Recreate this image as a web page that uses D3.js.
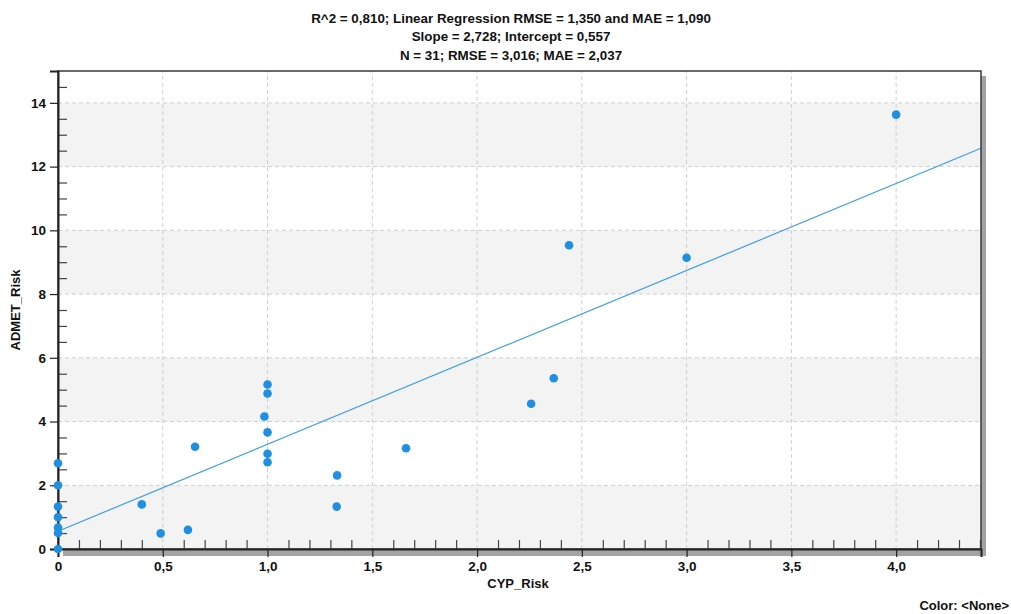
<!DOCTYPE html>
<html>
<head>
<meta charset="utf-8">
<script src="https://cdn.jsdelivr.net/npm/d3@7"></script>
<style>
  body { margin: 0; background: #fff; }
  svg { display: block; font-family: "Liberation Sans", Arial, sans-serif; }
</style>
</head>
<body>
<div id="chart"></div>
<script>
// values
const cypRisk   = [0, 0, 0, 0, 0, 0, 0, 0.4, 0.49, 0.62, 0.654, 1, 1, 0.985, 1, 1, 1, 1.332, 1.33, 1.661, 2.258, 2.366, 2.439, 3.0, 4.0];
const admetRisk = [2.69, 2.0, 1.33, 1.0, 0.67, 0.5, 0, 1.4, 0.49, 0.6, 3.21, 5.16, 4.88, 4.16, 3.66, 2.99, 2.72, 2.31, 1.33, 3.16, 4.56, 5.36, 9.53, 9.14, 13.63];
const slope = 2.728, intercept = 0.557;
const titleLines = [
  'R^2 = 0,810; Linear Regression RMSE = 1,350 and MAE = 1,090',
  'Slope = 2,728; Intercept = 0,557',
  'N = 31; RMSE = 3,016; MAE = 2,037'
];
const xMajor = [0, 0.5, 1, 1.5, 2, 2.5, 3, 3.5, 4];
const yMajor = [0, 2, 4, 6, 8, 10, 12, 14];
const bands = [[0, 2], [4, 6], [8, 10], [12, 14]];

const width = 1011, height = 614;
const m = { left: 58, top: 71, right: 30, bottom: 65 };

const svg = d3.select('#chart').append('svg')
  .attr('width', width).attr('height', height);

const x = d3.scaleLinear().domain([0, 4.405]).range([m.left, width - m.right]);
const y = d3.scaleLinear().domain([0, 15]).range([height - m.bottom, m.top]);

const fmt = v => v === 0 ? '0' : d3.format('.1f')(v).replace('.', ',');

// drop shadow
svg.append('rect')
  .attr('x', x(0) + 5).attr('y', y(15) + 5)
  .attr('width', x(4.405) - x(0)).attr('height', y(0) - y(15) + 2)
  .attr('fill', '#a3a3a3');

svg.append('rect')
  .attr('x', x(0)).attr('y', y(15))
  .attr('width', x(4.405) - x(0)).attr('height', y(0) - y(15))
  .attr('fill', '#fff');

// alternating bands
svg.selectAll('.band').data(bands).enter().append('rect')
  .attr('class', 'band')
  .attr('x', x(0)).attr('width', x(4.405) - x(0))
  .attr('y', d => y(d[1])).attr('height', d => y(d[0]) - y(d[1]))
  .attr('fill', '#f3f3f3');

// grid
svg.selectAll('.vgrid').data(xMajor.slice(1)).enter().append('line')
  .attr('x1', d => x(d)).attr('x2', d => x(d))
  .attr('y1', y(0)).attr('y2', y(15))
  .attr('stroke', '#cfcfcf').attr('stroke-dasharray', '4,3');
svg.selectAll('.hgrid').data(yMajor.slice(1)).enter().append('line')
  .attr('x1', x(0)).attr('x2', x(4.405))
  .attr('y1', d => y(d)).attr('y2', d => y(d))
  .attr('stroke', '#cfcfcf').attr('stroke-dasharray', '4,3');

// minor ticks (inward)
const xMinor = d3.range(1, 45).map(i => i / 10).filter(v => Math.abs(v * 2 - Math.round(v * 2)) > 1e-6);
const yMinor = d3.range(1, 30).map(i => i / 2).filter(v => v % 2 !== 0);

svg.append('g')
  .attr('transform', `translate(0,${y(0)})`)
  .call(d3.axisTop(x).tickValues(xMinor).tickSize(9).tickFormat(''))
  .call(g => g.select('.domain').remove())
  .call(g => g.selectAll('line').attr('stroke', '#444').attr('stroke-width', 1.2));
svg.append('g')
  .attr('transform', `translate(${x(0)},0)`)
  .call(d3.axisRight(y).tickValues(yMinor).tickSize(9).tickFormat(''))
  .call(g => g.select('.domain').remove())
  .call(g => g.selectAll('line').attr('stroke', '#444').attr('stroke-width', 1.2));

// regression line
svg.append('line')
  .attr('x1', x(0)).attr('y1', y(intercept))
  .attr('x2', x(4.405)).attr('y2', y(intercept + slope * 4.405))
  .attr('stroke', '#3a9ee6').attr('stroke-width', 1.2);

// frame
svg.append('rect')
  .attr('x', x(0)).attr('y', y(15))
  .attr('width', x(4.405) - x(0)).attr('height', y(0) - y(15))
  .attr('fill', 'none').attr('stroke', '#3a3a3a').attr('stroke-width', 1.5);

// major axes
const xAxis = svg.append('g')
  .attr('transform', `translate(0,${y(0)})`)
  .call(d3.axisBottom(x).tickValues(xMajor).tickSize(8).tickPadding(4).tickFormat(fmt));
const yAxis = svg.append('g')
  .attr('transform', `translate(${x(0)},0)`)
  .call(d3.axisLeft(y).tickValues(yMajor).tickSize(8).tickPadding(4).tickFormat(d3.format('d')));
[xAxis, yAxis].forEach(a => {
  a.select('.domain').attr('stroke', '#222').attr('stroke-width', 2);
  a.selectAll('line').attr('stroke', '#222').attr('stroke-width', 1.2);
  a.selectAll('text').attr('fill', '#111').style('font-size', '13.5px').style('font-weight', 'bold')
    .style('font-family', '"Liberation Sans", Arial, sans-serif');
});

// points
svg.selectAll('.dot').data(cypRisk).enter().append('circle')
  .attr('class', 'dot')
  .attr('cx', d => x(d)).attr('cy', (d, i) => y(admetRisk[i]))
  .attr('r', 4.3)
  .attr('fill', '#1e8fe1');

// title
svg.selectAll('.title').data(titleLines).enter().append('text')
  .attr('x', 511).attr('y', (d, i) => 23 + i * 18.3)
  .attr('text-anchor', 'middle')
  .style('font-size', '13.4px').style('font-weight', 'bold').attr('fill', '#111')
  .text(d => d);

// axis titles
svg.append('text')
  .attr('x', 518).attr('y', 588)
  .attr('text-anchor', 'middle')
  .style('font-size', '13px').style('font-weight', 'bold').attr('fill', '#111')
  .text('CYP_Risk');
svg.append('text')
  .attr('transform', `translate(20,${(y(0) + y(15)) / 2}) rotate(-90)`)
  .attr('text-anchor', 'middle')
  .style('font-size', '13px').style('font-weight', 'bold').attr('fill', '#111')
  .text('ADMET_Risk');

svg.append('text')
  .attr('x', 1009).attr('y', 610)
  .attr('text-anchor', 'end')
  .style('font-size', '13px').style('font-weight', 'bold').attr('fill', '#111')
  .text('Color: <None>');
</script>
</body>
</html>
